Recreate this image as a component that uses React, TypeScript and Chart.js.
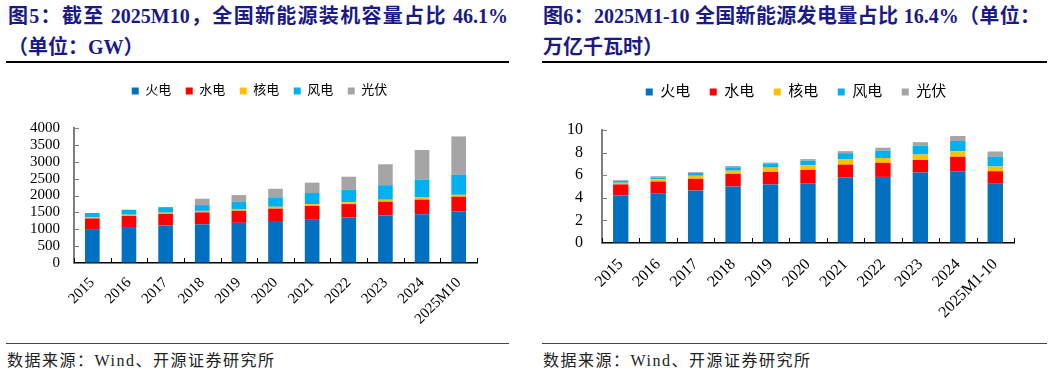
import React, { useEffect, useRef } from 'react';
import { Chart, registerables } from 'chart.js';

Chart.register(...registerables);

// ---------- data ----------
const seriesNames = ['火电', '水电', '核电', '风电', '光伏'];
const seriesColors = ['#0070C0', '#FF0000', '#FFC000', '#00B0F0', '#A5A5A5'];

const categories1 = ['2015', '2016', '2017', '2018', '2019', '2020', '2021', '2022', '2023', '2024', '2025M10'];
const thermal1 = [1005, 1065, 1110, 1145, 1190, 1245, 1300, 1345, 1405, 1445, 1525];
const hydro1 = [315, 330, 345, 355, 358, 365, 390, 400, 410, 432, 440];
const nuclear1 = [30, 35, 36, 45, 49, 55, 55, 57, 60, 65, 55];
const wind1 = [130, 147, 164, 170, 215, 280, 328, 365, 430, 523, 590];
const solar1 = [0, 0, 0, 190, 200, 255, 308, 390, 620, 885, 1140];

const categories2 = ['2015', '2016', '2017', '2018', '2019', '2020', '2021', '2022', '2023', '2024', '2025M1-10'];
const thermal2 = [4.21, 4.41, 4.65, 5.0, 5.18, 5.29, 5.79, 5.85, 6.24, 6.35, 5.24];
const hydro2 = [0.97, 1.03, 1.03, 1.12, 1.11, 1.18, 1.15, 1.24, 1.11, 1.27, 1.11];
const nuclear2 = [0.15, 0.2, 0.27, 0.28, 0.38, 0.4, 0.45, 0.43, 0.48, 0.5, 0.42];
const wind2 = [0.15, 0.15, 0.24, 0.3, 0.33, 0.41, 0.56, 0.65, 0.77, 0.91, 0.86];
const solar2 = [0.08, 0.12, 0.08, 0.11, 0.12, 0.15, 0.18, 0.26, 0.32, 0.44, 0.47];

const title1a = '图5：截至 2025M10，全国新能源装机容量占比 46.1%';
const title1b = '（单位：GW）';
const title2a = '图6：2025M1-10 全国新能源发电量占比 16.4%（单位：';
const title2b = '万亿千瓦时）';
const sourceText = '数据来源：Wind、开源证券研究所';

const FONT = '"Liberation Serif", "Noto Sans CJK SC", serif';

// ---------- plugins ----------
const innerTicks = {
  id: 'innerTicks',
  afterDatasetsDraw(chart: any) {
    const { ctx, chartArea, scales } = chart;
    const y = scales.y;
    const x = scales.x;
    ctx.save();
    ctx.lineWidth = 1;
    ctx.strokeStyle = '#7f7f7f';
    y.ticks.forEach((_: any, i: number) => {
      const py = Math.round(y.getPixelForTick(i)) + 0.5;
      ctx.beginPath();
      ctx.moveTo(chartArea.left, py);
      ctx.lineTo(chartArea.left + 5, py);
      ctx.stroke();
    });
    ctx.strokeStyle = '#000';
    const n = x.ticks.length;
    for (let i = 0; i <= n; i++) {
      const px = Math.round(x.getPixelForValue(i - 0.5)) + 0.5;
      ctx.beginPath();
      ctx.moveTo(px, chartArea.bottom);
      ctx.lineTo(px, chartArea.bottom - 5);
      ctx.stroke();
    }
    ctx.restore();
  },
};

// fixes the legend block height and shifts it sideways
const legendTweak = (h: number, shift: number) => ({
  id: 'legendTweak',
  beforeInit(chart: any) {
    const lg = chart.legend;
    if (!lg) return;
    const origFit = lg.fit;
    lg.fit = function () {
      origFit.call(this);
      this.height = h;
    };
    const origDraw = lg.draw;
    lg.draw = function () {
      const l = this.left;
      const r = this.right;
      this.left = l + shift;
      this.right = r + shift;
      origDraw.call(this);
      this.left = l;
      this.right = r;
    };
  },
});

type PanelProps = {
  categories: string[];
  series: number[][];
  yMax: number;
  yStep: number;
  width: number;
  height: number;
  legendFont: number;
  legendPad: number;
  legendH: number;
  legendShift: number;
  yWidth: number;
  xHeight: number;
  padRight: number;
  tickFont: number;
  yPad: number;
  xPad: number;
  barPct: number;
};

function StackChart(p: PanelProps) {
  const ref = useRef<HTMLCanvasElement | null>(null);
  useEffect(() => {
    if (!ref.current) return;
    const chart = new Chart(ref.current, {
      type: 'bar',
      data: {
        labels: p.categories,
        datasets: p.series.map((d, i) => ({
          label: seriesNames[i],
          data: d,
          backgroundColor: seriesColors[i],
          borderWidth: 0,
          barPercentage: p.barPct,
          categoryPercentage: 1,
        })),
      },
      options: {
        responsive: false,
        animation: false,
        devicePixelRatio: 1,
        layout: { padding: { left: 0, right: p.padRight, top: 0, bottom: 0 } },
        plugins: {
          legend: {
            position: 'top',
            labels: {
              boxWidth: 7,
              boxHeight: 7,
              padding: p.legendPad,
              color: '#000',
              font: { family: FONT, size: p.legendFont },
            },
          },
          tooltip: { enabled: false },
        },
        scales: {
          x: {
            stacked: true,
            offset: true,
            grid: { display: true, drawOnChartArea: false, drawTicks: false },
            border: { display: true, color: '#000', width: 1.5 },
            ticks: {
              autoSkip: false,
              minRotation: 45,
              maxRotation: 45,
              padding: p.xPad,
              color: '#000',
              font: { family: FONT, size: p.tickFont },
            },
            afterFit: (s: any) => {
              s.height = p.xHeight;
            },
          },
          y: {
            stacked: true,
            min: 0,
            max: p.yMax,
            grid: { display: true, drawOnChartArea: false, drawTicks: false },
            border: { display: true, color: '#808080', width: 2 },
            ticks: {
              autoSkip: false,
              stepSize: p.yStep,
              padding: p.yPad,
              color: '#000',
              font: { family: FONT, size: p.tickFont },
              callback: (v: any) => String(v),
            },
            afterFit: (s: any) => {
              s.width = p.yWidth;
            },
          },
        },
      } as any,
      plugins: [innerTicks, legendTweak(p.legendH, p.legendShift)] as any,
    });
    return () => chart.destroy();
  }, []);
  return <canvas ref={ref} width={p.width} height={p.height} style={{ width: p.width, height: p.height, display: 'block' }} />;
}

const titleStyle: React.CSSProperties = {
  position: 'absolute',
  fontFamily: FONT,
  fontWeight: 'bold',
  fontSize: 20,
  lineHeight: '24px',
  color: '#1a1a86',
  whiteSpace: 'nowrap',
};

const footStyle: React.CSSProperties = {
  position: 'absolute',
  fontFamily: FONT,
  fontSize: 16,
  lineHeight: '20px',
  letterSpacing: '1.5px',
  color: '#222',
  whiteSpace: 'nowrap',
};

export default function App() {
  return (
    <div style={{ position: 'absolute', left: 0, top: 0, width: 1057, height: 374, background: '#fff', overflow: 'hidden' }}>
      {/* left panel */}
      <div style={{ ...titleStyle, left: 8, top: 4, width: 500, textAlign: 'justify', textAlignLast: 'justify' } as any}>{title1a}</div>
      <div style={{ ...titleStyle, left: 8, top: 35 }}>{title1b}</div>
      <div style={{ position: 'absolute', left: 6, top: 61, width: 503, height: 1.5, background: '#000' }} />
      <div style={{ position: 'absolute', left: 0, top: 70 }}>
        <StackChart
          categories={categories1}
          series={[thermal1, hydro1, nuclear1, wind1, solar1]}
          yMax={4000}
          yStep={500}
          width={528}
          height={270}
          legendFont={13}
          legendPad={14.5}
          legendH={58}
          legendShift={21}
          yWidth={74}
          xHeight={77}
          padRight={51}
          tickFont={15}
          yPad={14}
          xPad={11}
          barPct={0.4}
        />
      </div>
      <div style={{ position: 'absolute', left: 6, top: 343, width: 503, height: 1, background: '#444' }} />
      <div style={{ ...footStyle, left: 7, top: 351 }}>{sourceText}</div>

      {/* right panel */}
      <div style={{ ...titleStyle, left: 543, top: 4, width: 497, textAlign: 'justify', textAlignLast: 'justify' } as any}>{title2a}</div>
      <div style={{ ...titleStyle, left: 543, top: 35 }}>{title2b}</div>
      <div style={{ position: 'absolute', left: 542, top: 61, width: 505, height: 1.5, background: '#000' }} />
      <div style={{ position: 'absolute', left: 530, top: 65 }}>
        <StackChart
          categories={categories2}
          series={[thermal2, hydro2, nuclear2, wind2, solar2]}
          yMax={10}
          yStep={2}
          width={527}
          height={275}
          legendFont={15}
          legendPad={19.5}
          legendH={65}
          legendShift={24}
          yWidth={72}
          xHeight={97}
          padRight={43}
          tickFont={16}
          yPad={19}
          xPad={12}
          barPct={0.41}
        />
      </div>
      <div style={{ position: 'absolute', left: 542, top: 343, width: 505, height: 1, background: '#444' }} />
      <div style={{ ...footStyle, left: 543, top: 351 }}>{sourceText}</div>
    </div>
  );
}
